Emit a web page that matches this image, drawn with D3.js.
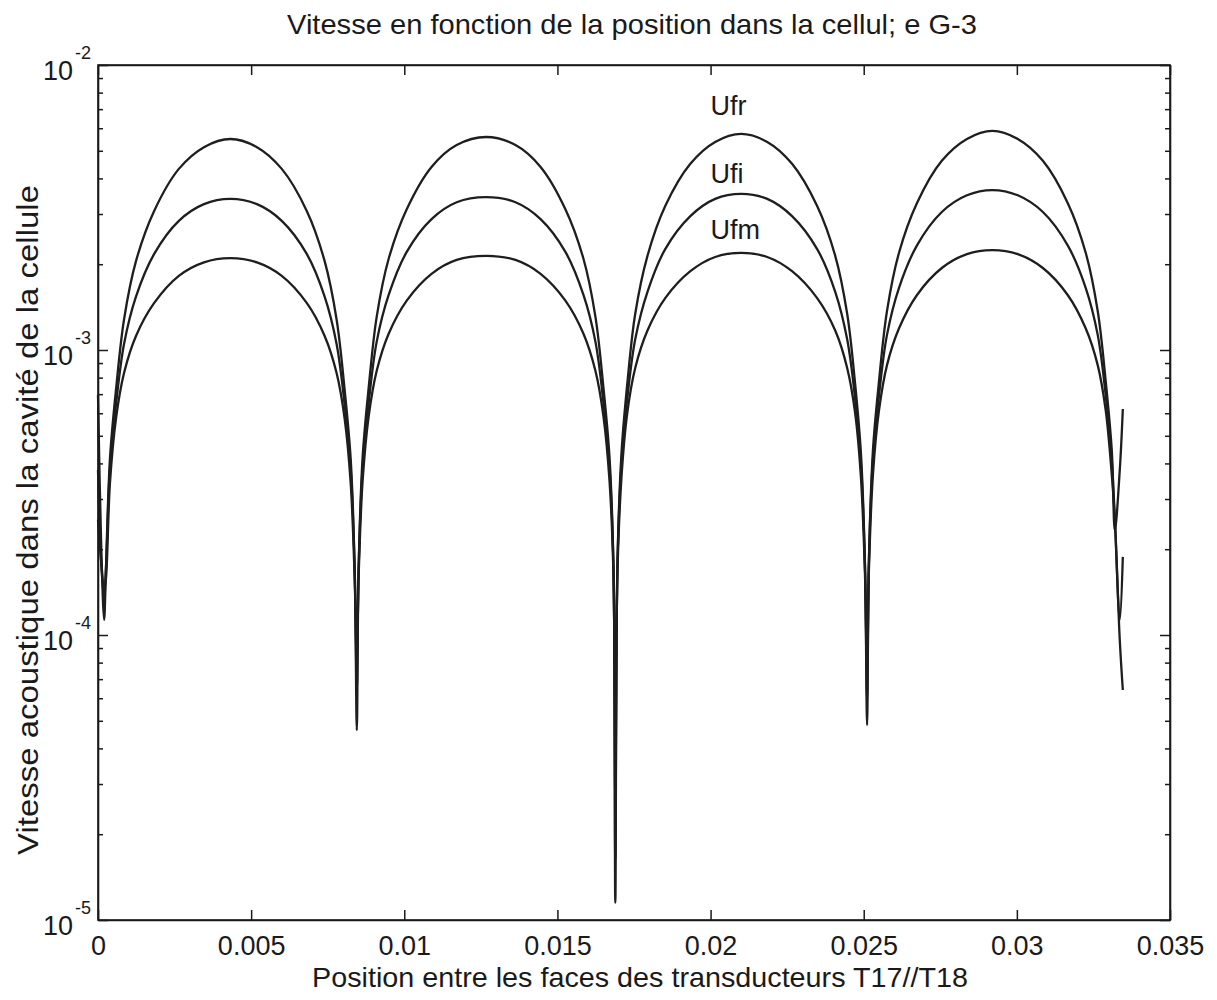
<!DOCTYPE html>
<html>
<head>
<meta charset="utf-8">
<script src="https://cdn.jsdelivr.net/npm/d3@7"></script>
<style>
  body { margin: 0; background: #fff; }
  text { font-family: "Liberation Sans", Arial, sans-serif; fill: #1a1a1a; }
</style>
</head>
<body>
<div id="chart"></div>
<script>
// Position between transducer faces (m)
const xPos = [
  0, 0.00010, 0.00020,
  0.00026, 0.00039, 0.00059, 0.00085, 0.00124, 0.00183, 0.00264, 0.00346,
  0.00432,
  0.00519, 0.00600, 0.00682, 0.00740, 0.00779, 0.00805, 0.00825, 0.00838,
  0.00845,
  0.00851, 0.00864, 0.00884, 0.00910, 0.00949, 0.01008, 0.01089, 0.01171,
  0.01267,
  0.01363, 0.01445, 0.01526, 0.01585, 0.01624, 0.01650, 0.01670, 0.01683,
  0.01689,
  0.01696, 0.01709, 0.01728, 0.01754, 0.01794, 0.01852, 0.01934, 0.02015,
  0.02100,
  0.02185, 0.02266, 0.02348, 0.02407, 0.02446, 0.02472, 0.02491, 0.02504,
  0.02511,
  0.02517, 0.02530, 0.02550, 0.02576, 0.02615, 0.02674, 0.02755, 0.02837,
  0.02920,
  0.03003, 0.03085, 0.03166, 0.03225, 0.03264, 0.03290, 0.03310,
  0.03320, 0.03336, 0.03346
];

// Acoustic velocity, one array per curve
const ufr = [
  6.95e-4, 2.16e-4, 1.13e-4,
  1.71e-4, 4.15e-4, 7.30e-4, 1.28e-3, 2.05e-3, 3.07e-3, 4.32e-3, 5.15e-3,
  5.50e-3,
  5.15e-3, 4.32e-3, 3.07e-3, 2.05e-3, 1.28e-3, 7.30e-4, 4.15e-4, 1.71e-4,
  4.64e-5,
  1.73e-4, 4.21e-4, 7.42e-4, 1.31e-3, 2.09e-3, 3.12e-3, 4.39e-3, 5.24e-3,
  5.59e-3,
  5.24e-3, 4.39e-3, 3.12e-3, 2.09e-3, 1.31e-3, 7.42e-4, 4.21e-4, 1.73e-4,
  1.15e-5,
  1.78e-4, 4.32e-4, 7.60e-4, 1.34e-3, 2.14e-3, 3.20e-3, 4.50e-3, 5.37e-3,
  5.73e-3,
  5.37e-3, 4.50e-3, 3.20e-3, 2.14e-3, 1.34e-3, 7.60e-4, 4.32e-4, 1.78e-4,
  4.83e-5,
  1.82e-4, 4.43e-4, 7.79e-4, 1.37e-3, 2.19e-3, 3.28e-3, 4.61e-3, 5.50e-3,
  5.87e-3,
  5.50e-3, 4.61e-3, 3.28e-3, 2.19e-3, 1.37e-3, 7.79e-4, 4.43e-4,
  2.33e-4, 3.79e-4, 6.21e-4
];

const ufi = [
  3.79e-4, 1.83e-4, 1.33e-4,
  1.71e-4, 3.83e-4, 6.47e-4, 1.05e-3, 1.54e-3, 2.17e-3, 2.84e-3, 3.25e-3,
  3.39e-3,
  3.25e-3, 2.84e-3, 2.17e-3, 1.54e-3, 1.05e-3, 6.47e-4, 3.83e-4, 1.71e-4,
  6.41e-5,
  1.73e-4, 3.88e-4, 6.57e-4, 1.07e-3, 1.56e-3, 2.21e-3, 2.88e-3, 3.30e-3,
  3.44e-3,
  3.30e-3, 2.88e-3, 2.21e-3, 1.56e-3, 1.07e-3, 6.57e-4, 3.88e-4, 1.73e-4,
  1.63e-5,
  1.78e-4, 3.99e-4, 6.74e-4, 1.09e-3, 1.60e-3, 2.26e-3, 2.95e-3, 3.39e-3,
  3.53e-3,
  3.39e-3, 2.95e-3, 2.26e-3, 1.60e-3, 1.09e-3, 6.74e-4, 3.99e-4, 1.78e-4,
  5.91e-5,
  1.83e-4, 4.11e-4, 6.95e-4, 1.13e-3, 1.65e-3, 2.33e-3, 3.05e-3, 3.49e-3,
  3.64e-3,
  3.49e-3, 3.05e-3, 2.33e-3, 1.65e-3, 1.13e-3, 6.95e-4, 4.11e-4,
  2.54e-4, 1.13e-4, 1.88e-4
];

const ufm = [
  2.54e-4, 1.83e-4, 1.44e-4,
  1.58e-4, 3.41e-4, 5.77e-4, 8.30e-4, 1.12e-3, 1.46e-3, 1.82e-3, 2.03e-3,
  2.10e-3,
  2.03e-3, 1.82e-3, 1.46e-3, 1.12e-3, 8.30e-4, 5.77e-4, 3.41e-4, 1.58e-4,
  8.17e-5,
  1.61e-4, 3.48e-4, 5.88e-4, 8.45e-4, 1.14e-3, 1.49e-3, 1.85e-3, 2.07e-3,
  2.14e-3,
  2.07e-3, 1.85e-3, 1.49e-3, 1.14e-3, 8.45e-4, 5.88e-4, 3.48e-4, 1.61e-4,
  2.64e-5,
  1.65e-4, 3.56e-4, 6.01e-4, 8.65e-4, 1.17e-3, 1.52e-3, 1.89e-3, 2.12e-3,
  2.19e-3,
  2.12e-3, 1.89e-3, 1.52e-3, 1.17e-3, 8.65e-4, 6.01e-4, 3.56e-4, 1.65e-4,
  7.54e-5,
  1.69e-4, 3.64e-4, 6.15e-4, 8.85e-4, 1.19e-3, 1.56e-3, 1.94e-3, 2.17e-3,
  2.24e-3,
  2.17e-3, 1.94e-3, 1.56e-3, 1.19e-3, 8.85e-4, 6.15e-4, 3.64e-4,
  2.54e-4, 9.60e-5, 6.41e-5
];

const seriesNames = ["Ufr", "Ufi", "Ufm"];
const xTicks = [0, 0.005, 0.01, 0.015, 0.02, 0.025, 0.03, 0.035];
const xTickLabels = ["0", "0.005", "0.01", "0.015", "0.02", "0.025", "0.03", "0.035"];
const yDecades = [1e-5, 1e-4, 1e-3, 1e-2];
const yExponents = ["-5", "-4", "-3", "-2"];

// Where the curve names sit (data coordinates)
const labelX = 0.0200;
const labelY = [6.7e-3, 3.85e-3, 2.45e-3];

// Plot box in page pixels
const W = 1217, H = 1000;
const box = {left: 98, right: 1170, top: 65, bottom: 920};

const svg = d3.select("#chart")
  .append("svg")
    .attr("width", W)
    .attr("height", H);

svg.append("rect").attr("width", W).attr("height", H).attr("fill", "#fff");

// Scales
const x = d3.scaleLinear()
  .domain([0, 0.035])
  .range([box.left, box.right]);

const y = d3.scaleLog()
  .domain([1e-5, 1e-2])
  .range([box.bottom, box.top]);

const logTicks = y.ticks();
const isMajor = d => yDecades.some(v => Math.abs(v - d) / v < 1e-6);

// Curves
const line = d3.line()
  .x((d, i) => x(xPos[i]))
  .y(d => y(d))
  .curve(d3.curveCatmullRom.alpha(0.5));

[ufr, ufi, ufm].forEach(vals => {
  svg.append("path")
    .datum(vals)
    .attr("d", line)
    .attr("fill", "none")
    .attr("stroke", "#1e1e1e")
    .attr("stroke-width", 2.3)
    .attr("stroke-linejoin", "round");
});

// Left axis (ticks point inward)
const leftAxis = svg.append("g")
  .attr("transform", `translate(${box.left},0)`)
  .call(d3.axisLeft(y).tickValues(logTicks).tickFormat("").tickSizeInner(-5).tickSizeOuter(0));
leftAxis.selectAll(".tick line").attr("x2", d => isMajor(d) ? 10 : 5);

// Right axis
const rightAxis = svg.append("g")
  .attr("transform", `translate(${box.right},0)`)
  .call(d3.axisRight(y).tickValues(logTicks).tickFormat("").tickSizeInner(-5).tickSizeOuter(0));
rightAxis.selectAll(".tick line").attr("x2", d => isMajor(d) ? -10 : -5);

// Bottom axis
const bottomAxis = svg.append("g")
  .attr("transform", `translate(0,${box.bottom})`)
  .call(d3.axisBottom(x).tickValues(xTicks).tickSizeInner(-10).tickSizeOuter(0)
    .tickFormat((d, i) => xTickLabels[i]));
bottomAxis.selectAll(".tick text")
  .attr("y", 35)
  .attr("dy", 0)
  .style("font-size", "27px");

// Top axis
svg.append("g")
  .attr("transform", `translate(0,${box.top})`)
  .call(d3.axisTop(x).tickValues(xTicks).tickFormat("").tickSizeInner(-10).tickSizeOuter(0));

svg.selectAll(".domain").attr("stroke", "#1a1a1a").attr("stroke-width", 1.6);
svg.selectAll(".tick line").attr("stroke", "#1a1a1a").attr("stroke-width", 1.5);
svg.selectAll("g text").attr("font-family", null);

// Box edges
svg.append("rect")
  .attr("x", box.left)
  .attr("y", box.top)
  .attr("width", box.right - box.left)
  .attr("height", box.bottom - box.top)
  .attr("fill", "none")
  .attr("stroke", "#1a1a1a")
  .attr("stroke-width", 1.6);

// Y tick labels: 10 with exponent
yDecades.forEach((v, i) => {
  svg.append("text")
    .attr("x", 73)
    .attr("y", y(v) + 15)
    .attr("text-anchor", "end")
    .style("font-size", "27px")
    .text("10");
  svg.append("text")
    .attr("x", 75)
    .attr("y", y(v) - 6)
    .style("font-size", "18px")
    .text(yExponents[i]);
});

// Curve names
seriesNames.forEach((name, i) => {
  svg.append("text")
    .attr("x", x(labelX))
    .attr("y", y(labelY[i]))
    .style("font-size", "27px")
    .text(name);
});

// Title
svg.append("text")
  .attr("x", 632)
  .attr("y", 34)
  .attr("text-anchor", "middle")
  .style("font-size", "28px")
  .attr("textLength", 690)
  .attr("lengthAdjust", "spacingAndGlyphs")
  .text("Vitesse en fonction de la position dans la cellul; e G-3");

// X axis label
svg.append("text")
  .attr("x", 640)
  .attr("y", 987)
  .attr("text-anchor", "middle")
  .style("font-size", "28px")
  .attr("textLength", 656)
  .attr("lengthAdjust", "spacingAndGlyphs")
  .text("Position entre les faces des transducteurs T17//T18");

// Y axis label
svg.append("text")
  .attr("transform", `translate(38,520) rotate(-90)`)
  .attr("text-anchor", "middle")
  .style("font-size", "29px")
  .attr("textLength", 670)
  .attr("lengthAdjust", "spacingAndGlyphs")
  .text("Vitesse acoustique dans la cavité de la cellule");
</script>
</body>
</html>
